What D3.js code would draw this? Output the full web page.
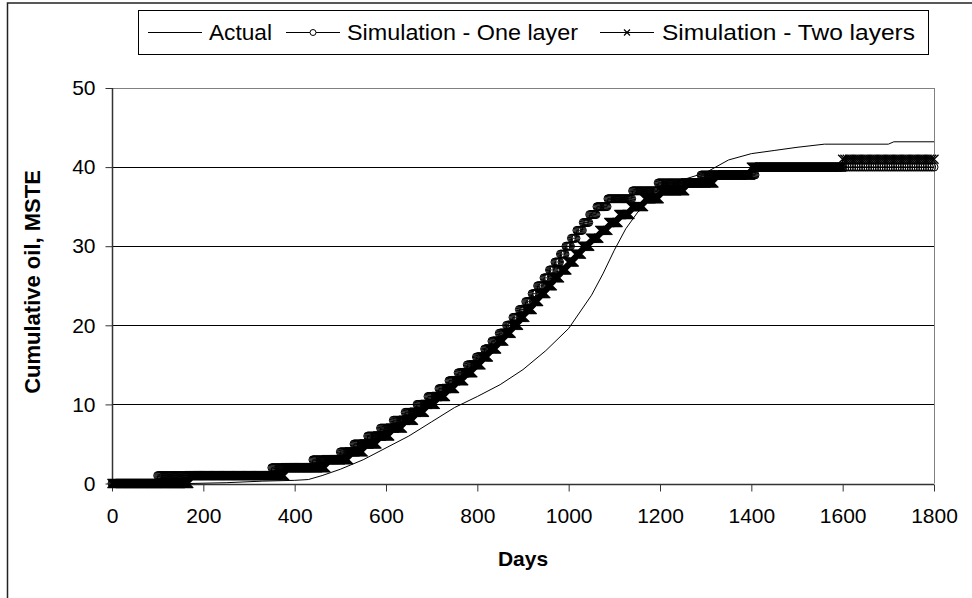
<!DOCTYPE html>
<html><head><meta charset="utf-8">
<script src="https://cdn.jsdelivr.net/npm/d3@7/dist/d3.min.js"></script>
<style>
body{margin:0;background:#fff}
svg{display:block}
text{font-family:"Liberation Sans",Arial,Helvetica,sans-serif;fill:#000}
</style>
</head><body>
<svg id="chart" width="972" height="598"></svg>
<script>
// ---------------- DATA ----------------
const seriesNames = ["Actual", "Simulation - One layer", "Simulation - Two layers"];
const xTicks = [0, 200, 400, 600, 800, 1000, 1200, 1400, 1600, 1800];
const yTicks = [0, 10, 20, 30, 40, 50];

// Actual production (days, cumulative oil)
const actualDays = [0, 100, 170, 250, 330, 400, 430, 460, 500, 550, 600, 650, 700, 750, 800, 850, 900, 950, 1000, 1050, 1075, 1100, 1125, 1150, 1175, 1200, 1250, 1300, 1350, 1400, 1450, 1500, 1560, 1700, 1712, 1800];
const actualOil  = [0, 0, 0, 0.1, 0.3, 0.4, 0.5, 1.0, 1.8, 3.0, 4.5, 6.0, 7.8, 9.6, 11.0, 12.5, 14.4, 16.8, 19.6, 23.8, 26.5, 29.5, 32.2, 34.2, 35.8, 36.8, 38.4, 39.3, 40.9, 41.7, 42.1, 42.5, 42.9, 42.9, 43.2, 43.2];

// Simulated cumulative oil is reported in whole MSTE: the day on which each level (0,1,2,...) is first reached
const oneLayerLevels = d3.range(0, 41);
const oneLayerStartDay = [0, 100, 350, 440, 500, 530, 560, 588, 615, 642, 668, 692, 715, 737, 758, 778, 797, 815, 832, 848, 863, 878, 892, 906, 919, 932, 945, 957, 969, 981, 993, 1005, 1018, 1031, 1045, 1062, 1085, 1140, 1195, 1290, 1410];
const twoLayersLevels = d3.range(0, 42);
const twoLayersStartDay = [0, 170, 380, 470, 520, 552, 582, 610, 637, 662, 686, 709, 731, 752, 772, 791, 809, 826, 843, 859, 875, 891, 906, 921, 936, 951, 966, 981, 997, 1013, 1030, 1048, 1067, 1087, 1110, 1135, 1165, 1200, 1255, 1320, 1400, 1600];
// simulator report days (dense while producing, coarser at late time)
const reportDays = d3.range(0, 1600, 2).concat(d3.range(1600, 1801, 5));

// ---------------- CHART ----------------
const svg = d3.select("#chart");
const W = 972, H = 598;
const plot = {left: 112, right: 934, top: 88, bottom: 483.5};

const x = d3.scaleLinear().domain([0, 1800]).range([plot.left, plot.right]);
const y = d3.scaleLinear().domain([0, 50]).range([plot.bottom, plot.top]);

// outer chart border
svg.append("rect").attr("x", 7.5).attr("y", 3).attr("width", W + 10).attr("height", H + 10)
  .attr("fill", "#fff").attr("stroke", "#222").attr("stroke-width", 1.5);

// gridlines
svg.append("g").selectAll("line").data(yTicks.filter(d => d > 0)).join("line")
  .attr("x1", plot.left).attr("x2", plot.right)
  .attr("y1", d => Math.round(y(d)) + 0.5).attr("y2", d => Math.round(y(d)) + 0.5)
  .attr("stroke", d => d === 50 ? "#808080" : "#000").attr("stroke-width", 1);

// plot area right border
svg.append("line").attr("x1", plot.right + 0.5).attr("x2", plot.right + 0.5)
  .attr("y1", plot.top).attr("y2", plot.bottom).attr("stroke", "#808080");

// axes
const fontSize = 21;
const xAxis = d3.axisBottom(x).tickValues(xTicks).tickSize(7).tickPadding(17).tickFormat(d3.format("d"));
const gx = svg.append("g").attr("transform", `translate(0,${Math.round(plot.bottom) + 0.5})`).call(xAxis);
gx.select(".domain").attr("stroke", "#333").attr("stroke-width", 1.5).attr("d", `M${plot.left},0H${plot.right}`);
gx.selectAll(".tick line").attr("stroke", "#333");
gx.selectAll(".tick text").attr("font-size", fontSize).attr("font-family", '"Liberation Sans",Arial,sans-serif').attr("fill", "#000");

const yAxis = d3.axisLeft(y).tickValues(yTicks).tickSize(7).tickPadding(10).tickFormat(d3.format("d"));
const gy = svg.append("g").attr("transform", `translate(${Math.round(plot.left) + 0.5},0)`).call(yAxis);
gy.select(".domain").attr("stroke", "#333").attr("stroke-width", 1.5).attr("d", `M0,${plot.top}V${plot.bottom}`);
gy.selectAll(".tick line").attr("stroke", "#333");
gy.selectAll(".tick text").attr("font-size", fontSize).attr("font-family", '"Liberation Sans",Arial,sans-serif').attr("fill", "#000");

// axis titles
svg.append("text").attr("x", (plot.left + plot.right) / 2).attr("y", 566)
  .attr("text-anchor", "middle").attr("font-size", 21).attr("font-weight", "bold").text("Days");
svg.append("text").attr("transform", `translate(39.5,282) rotate(-90)`)
  .attr("text-anchor", "middle").attr("font-size", 22).attr("font-weight", "bold").text("Cumulative oil, MSTE");

// series
const line = d3.line().x(d => x(d[0])).y(d => y(d[1]));
const actualPts = actualDays.map((d, i) => [d, actualOil[i]]);
const levelAt = (starts, levels, day) => levels[d3.bisectRight(starts, day) - 1];
const onePts = reportDays.map(d => [d, levelAt(oneLayerStartDay, oneLayerLevels, d)]);
const twoPts = reportDays.map(d => [d, levelAt(twoLayersStartDay, twoLayersLevels, d)]);

svg.append("path").datum(actualPts).attr("d", line).attr("fill", "none").attr("stroke", "#000").attr("stroke-width", 1);

svg.append("path").datum(onePts).attr("d", line).attr("fill", "none").attr("stroke", "#000").attr("stroke-width", 1);
svg.append("g").selectAll("circle").data(onePts).join("circle")
  .attr("cx", d => x(d[0])).attr("cy", d => y(d[1])).attr("r", 4)
  .attr("fill", "none").attr("stroke", "#000").attr("stroke-width", 1);

svg.append("path").datum(twoPts).attr("d", line).attr("fill", "none").attr("stroke", "#000").attr("stroke-width", 1);
const xm = 4.5;
svg.append("g").selectAll("path").data(twoPts).join("path")
  .attr("transform", d => `translate(${x(d[0])},${y(d[1])})`)
  .attr("d", `M${-xm},${-xm}L${xm},${xm}M${xm},${-xm}L${-xm},${xm}`)
  .attr("stroke", "#000").attr("stroke-width", 1.3).attr("fill", "none");

// legend
const lg = svg.append("g");
lg.append("rect").attr("x", 138.5).attr("y", 10.5).attr("width", 790).attr("height", 44)
  .attr("fill", "#fff").attr("stroke", "#000").attr("stroke-width", 1);
const legendItems = [
  {name: seriesNames[0], x1: 148, x2: 202, tx: 209, len: 63, marker: null},
  {name: seriesNames[1], x1: 286, x2: 340, tx: 347, len: 231, marker: "circle"},
  {name: seriesNames[2], x1: 600, x2: 654, tx: 662, len: 253, marker: "x"}
];
const ly = 32.5;
legendItems.forEach(it => {
  lg.append("line").attr("x1", it.x1).attr("x2", it.x2).attr("y1", ly).attr("y2", ly).attr("stroke", "#000");
  const cx = (it.x1 + it.x2) / 2;
  if (it.marker === "circle") {
    lg.append("circle").attr("cx", cx).attr("cy", ly).attr("r", 3).attr("fill", "#fff").attr("stroke", "#000");
  } else if (it.marker === "x") {
    lg.append("path").attr("transform", `translate(${cx},${ly})`).attr("d", "M-3,-3L3,3M3,-3L-3,3").attr("stroke", "#000").attr("stroke-width", 1.2);
  }
  lg.append("text").attr("x", it.tx).attr("y", 40).attr("font-size", 22)
    .attr("textLength", it.len).attr("lengthAdjust", "spacingAndGlyphs").text(it.name);
});
</script>
</body></html>
